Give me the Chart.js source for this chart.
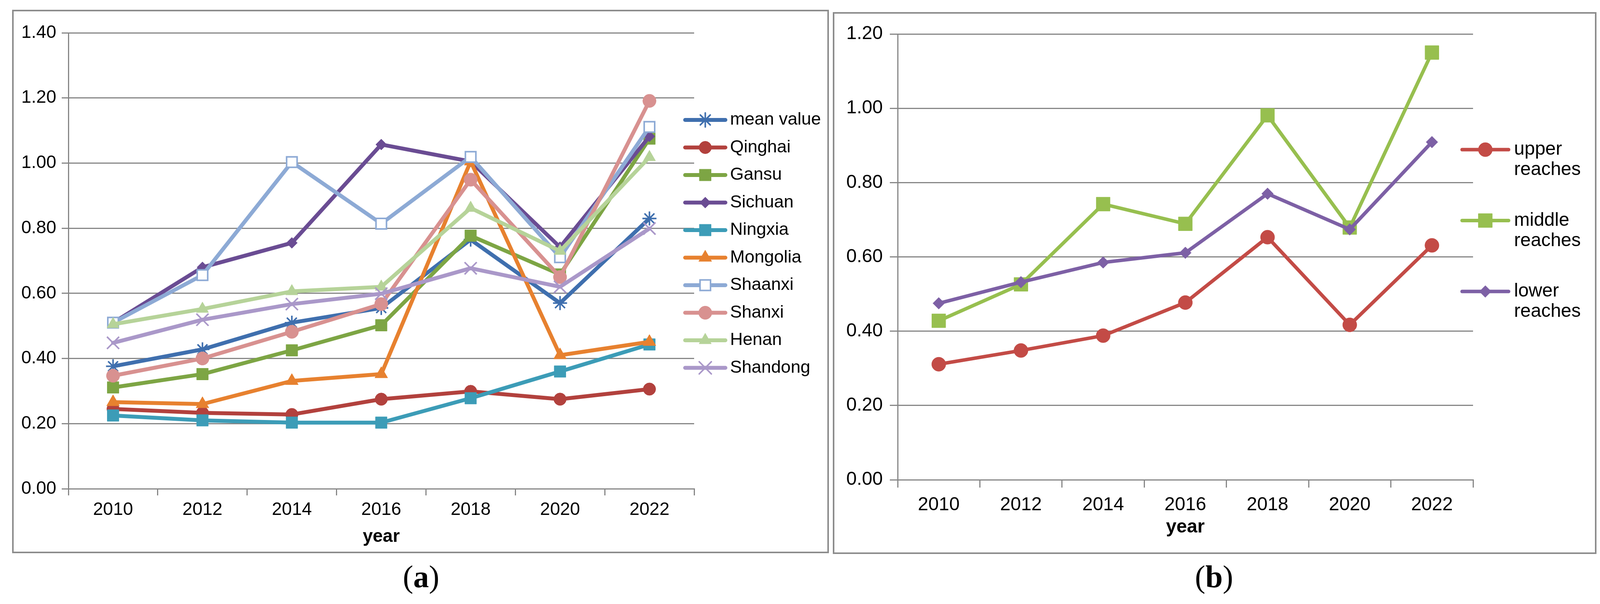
<!DOCTYPE html>
<html>
<head>
<meta charset="utf-8">
<script src="https://cdn.jsdelivr.net/npm/chart.js@4.4.1/dist/chart.umd.min.js"></script>
<style>
  html, body { margin: 0; padding: 0; background: #fff; }
  body { width: 4126px; height: 1546px; position: relative; overflow: hidden; }
  .frame { position: absolute; box-sizing: border-box; border: 4px solid #8c8c8c; background: #fff; }
  .frame canvas { position: absolute; left: 0; top: 0; }
  .cap { position: absolute; font-family: "Liberation Serif", "Times New Roman", serif; font-size: 80px; line-height: 1; transform: translateX(-50%); color: #000; }
</style>
</head>
<body>
<div class="frame" style="left:31px;top:25px;width:2091px;height:1391px"><canvas id="chartA"></canvas></div>
<div class="frame" style="left:2132px;top:31px;width:1955px;height:1387px"><canvas id="chartB"></canvas></div>
<div class="cap" style="left:1078px;top:1436px">(<b>a</b>)</div>
<div class="cap" style="left:3108px;top:1436px">(<b>b</b>)</div>
<script>
// values
const years = ['2010', '2012', '2014', '2016', '2018', '2020', '2022'];

// panel (a)
const meanValue = [0.376, 0.428, 0.51, 0.555, 0.765, 0.57, 0.83];
const qinghai   = [0.245, 0.233, 0.228, 0.275, 0.299, 0.275, 0.306];
const gansu     = [0.311, 0.352, 0.425, 0.502, 0.777, 0.658, 1.075];
const sichuan   = [0.51, 0.68, 0.755, 1.057, 1.005, 0.742, 1.082];
const ningxia   = [0.225, 0.21, 0.203, 0.203, 0.278, 0.36, 0.443];
const mongolia  = [0.266, 0.26, 0.331, 0.352, 1.005, 0.41, 0.451];
const shaanxi   = [0.51, 0.656, 1.003, 0.814, 1.019, 0.711, 1.111];
const shanxi    = [0.347, 0.4, 0.482, 0.567, 0.949, 0.65, 1.191];
const henan     = [0.505, 0.552, 0.606, 0.62, 0.862, 0.73, 1.018];
const shandong  = [0.448, 0.519, 0.567, 0.599, 0.677, 0.62, 0.799];

// panel (b)
const upperReaches  = [0.311, 0.348, 0.388, 0.477, 0.653, 0.417, 0.631];
const middleReaches = [0.428, 0.526, 0.742, 0.689, 0.981, 0.679, 1.15];
const lowerReaches  = [0.475, 0.532, 0.585, 0.611, 0.77, 0.674, 0.909];

const FONT = '"Liberation Sans", Arial, Helvetica, sans-serif';
const GRID = '#878787';

function series(label, data, color, style, radius, lw, extra) {
  return Object.assign({
    label, data,
    borderColor: color, backgroundColor: color, borderWidth: lw,
    borderJoinStyle: 'round', borderCapStyle: 'round', tension: 0,
    pointStyle: style, pointRadius: radius, pointHoverRadius: radius,
    pointBackgroundColor: color, pointBorderColor: color, pointBorderWidth: 1
  }, extra || {});
}

// Excel-like legend: line segment with the marker in the middle
const lineLegend = {
  id: 'lineLegend',
  afterDraw(chart, args, o) {
    const ctx = chart.ctx;
    ctx.save();
    chart.data.datasets.forEach((ds, i) => {
      const y = o.top + i * o.step;
      ctx.strokeStyle = ds.borderColor;
      ctx.lineWidth = ds.borderWidth;
      ctx.lineCap = 'round';
      ctx.beginPath();
      ctx.moveTo(o.x0, y);
      ctx.lineTo(o.x1, y);
      ctx.stroke();
      ctx.fillStyle = ds.pointBackgroundColor;
      ctx.strokeStyle = ds.pointBorderColor;
      ctx.lineWidth = ds.pointBorderWidth;
      Chart.helpers.drawPoint(ctx, {
        pointStyle: ds.pointStyle, radius: ds.pointRadius,
        rotation: 0, borderWidth: ds.pointBorderWidth
      }, (o.x0 + o.x1) / 2, y);
      ctx.fillStyle = '#000';
      ctx.font = o.size + 'px ' + FONT;
      ctx.textBaseline = 'middle';
      ctx.textAlign = 'left';
      const lines = o.wrap ? ds.label.split(' ') : [ds.label];
      lines.forEach((t, k) => ctx.fillText(t, o.tx, y + k * o.lineGap));
    });
    ctx.restore();
  }
};

function scalesFor(c) {
  return {
    x: {
      type: 'category', offset: true,
      grid: { offset: true, drawOnChartArea: false, drawTicks: true, tickLength: c.tick, color: GRID, lineWidth: 3 },
      border: { color: GRID, width: 3 },
      ticks: { font: { family: FONT, size: c.font }, color: '#000', padding: c.xPad, maxRotation: 0, autoSkip: false },
      title: { display: true, text: 'year', color: '#000', font: { family: FONT, size: c.font, weight: 'bold' }, padding: { top: 0, bottom: c.titlePad } },
      afterFit(s) { s.height = c.xHeight; }
    },
    y: {
      min: 0, max: c.max,
      ticks: { stepSize: 0.2, callback: v => v.toFixed(2), font: { family: FONT, size: c.font }, color: '#000', padding: c.yPad },
      grid: { color: GRID, lineWidth: 3, tickLength: c.tick },
      border: { color: GRID, width: 3 },
      afterFit(s) { s.width = c.yWidth; }
    }
  };
}

function makeChart(id, w, h, datasets, c, legendOpts) {
  const cv = document.getElementById(id);
  cv.width = w; cv.height = h;
  cv.style.width = w + 'px'; cv.style.height = h + 'px';
  // later series drawn on top, as in the source
  datasets.forEach((d, i) => { d.order = datasets.length - i; });
  return new Chart(cv, {
    type: 'line',
    data: { labels: years, datasets },
    options: {
      responsive: false, animation: false, devicePixelRatio: 1,
      layout: { padding: c.padding },
      plugins: { legend: { display: false }, tooltip: { enabled: false }, lineLegend: legendOpts },
      scales: scalesFor(c)
    },
    plugins: [lineLegend]
  });
}

makeChart('chartA', 2083, 1383, [
  series('mean value', meanValue, '#3F6FAE', 'star', 18, 10, { pointBorderWidth: 4 }),
  series('Qinghai', qinghai, '#B2413D', 'circle', 16, 10),
  series('Gansu', gansu, '#7DA544', 'rect', 21, 10),
  series('Sichuan', sichuan, '#6A4C93', 'rectRot', 14, 10),
  series('Ningxia', ningxia, '#3C9CB7', 'rect', 21, 10),
  series('Mongolia', mongolia, '#E7812F', 'triangle', 19, 10),
  series('Shaanxi', shaanxi, '#8DAAD5', 'rect', 19, 10, { pointBackgroundColor: '#ffffff', pointBorderWidth: 4 }),
  series('Shanxi', shanxi, '#D89190', 'circle', 17, 10),
  series('Henan', henan, '#B6D399', 'triangle', 18, 10),
  series('Shandong', shandong, '#AA98C9', 'crossRot', 22, 10, { pointBorderWidth: 4 })
], {
  padding: { left: 0, top: 55, right: 341, bottom: 0 },
  yWidth: 140, xHeight: 161, tick: 17, yPad: 14, xPad: 10, titlePad: 10, font: 46, max: 1.4
}, { x0: 1719, x1: 1822, tx: 1834, top: 278, step: 70.5, size: 45, wrap: false, lineGap: 0 });

makeChart('chartB', 1947, 1379, [
  series('upper reaches', upperReaches, '#C34B46', 'circle', 18, 9),
  series('middle reaches', middleReaches, '#97BF4F', 'rect', 25, 9),
  series('lower reaches', lowerReaches, '#7D60A5', 'rectRot', 15, 9)
], {
  padding: { left: 0, top: 52, right: 312, bottom: 0 },
  yWidth: 162, xHeight: 186, tick: 20, yPad: 18, xPad: 16, titlePad: 35, font: 48, max: 1.2
}, { x0: 1607, x1: 1726, tx: 1740, top: 348, step: 181.5, size: 48, wrap: true, lineGap: 52 });
</script>
</body>
</html>
